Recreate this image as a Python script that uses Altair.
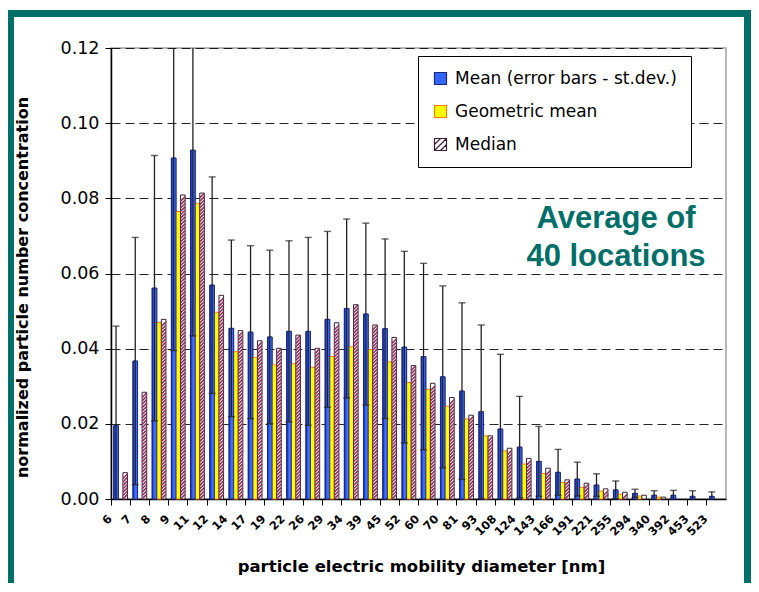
import altair as alt
import pandas as pd

# ---------------- data ----------------
categories = ["6", "7", "8", "9", "11", "12", "14", "17", "19", "22", "26", "29",
              "34", "39", "45", "52", "60", "70", "81", "93", "108", "124", "143",
              "166", "191", "221", "255", "294", "340", "392", "453", "523"]

mean_vals = [0.0195, 0.0367, 0.0561, 0.0907, 0.0928, 0.0569, 0.0454, 0.0444,
             0.0431, 0.0446, 0.0446, 0.0478, 0.0507, 0.0492, 0.0453, 0.0404,
             0.0379, 0.0325, 0.0287, 0.0232, 0.0186, 0.0138, 0.0100, 0.0071,
             0.0053, 0.0037, 0.0024, 0.0015, 0.0010, 0.0010, 0.0007, 0.0007]

stdev_vals = [0.0265, 0.0329, 0.0353, 0.0512, 0.0494, 0.0288, 0.0235, 0.0230,
              0.0231, 0.0241, 0.0250, 0.0234, 0.0238, 0.0242, 0.0239, 0.0255,
              0.0248, 0.0242, 0.0235, 0.0231, 0.0199, 0.0135, 0.0093, 0.0061,
              0.0045, 0.0030, 0.0024, 0.0011, 0.0012, 0.0013, 0.0015, 0.0012]

geo_vals = [None, None, 0.0470, 0.0765, 0.0787, 0.0497, 0.0392, 0.0377,
            0.0357, 0.0360, 0.0350, 0.0379, 0.0405, 0.0398, 0.0365, 0.0310,
            0.0292, 0.0247, 0.0213, 0.0168, 0.0128, 0.0093, 0.0068, 0.0044,
            0.0031, 0.0021, 0.0013, 0.0008, 0.0005, None, None, None]

median_vals = [0.0070, 0.0284, 0.0478, 0.0809, 0.0814, 0.0542, 0.0448, 0.0421,
               0.0401, 0.0436, 0.0401, 0.0469, 0.0517, 0.0463, 0.0430, 0.0355,
               0.0308, 0.0270, 0.0223, 0.0168, 0.0135, 0.0108, 0.0082, 0.0051,
               0.0042, 0.0027, 0.0018, 0.0010, 0.0005, None, None, None]

series_names = ["Mean (error bars - st.dev.)", "Geometric mean", "Median"]
y_ticks = [0.0, 0.02, 0.04, 0.06, 0.08, 0.10, 0.12]
annotation = "Average of\n40 locations"
X_TITLE = "particle electric mobility diameter [nm]"
Y_TITLE = "normalized particle number concentration"

# ---------------- styling ----------------
fill_colors = ["#3366ff", "#ffff00", "#ffffff"]
stroke_colors = ["#1a2680", "#ff8000", "#3d1f30"]
legend_shapes = ["square", "square",
                 "M-1,-1H1V1H-1Z M-1,0L0,-1 M-1,1L1,-1 M0,1L1,0"]
TEAL = "#006e69"
FONT = "DejaVu Sans"
W, H = 615, 451
YDOM = [0, 0.12]

# ---------------- tables built from the lists ----------------
rows = []
for i, c in enumerate(categories):
    for s, vals in zip(series_names, (mean_vals, geo_vals, median_vals)):
        if vals[i] is not None:
            rows.append({"diameter": c, "series": s, "value": vals[i]})
bars_df = pd.DataFrame(rows)

err_df = pd.DataFrame({"diameter": categories, "series": series_names[0],
                       "mean": mean_vals, "sd": stdev_vals})
err_df["lo"] = err_df["mean"] - err_df["sd"]
err_df["hi"] = err_df["mean"] + err_df["sd"]
cap_df = pd.concat([err_df.assign(end=err_df["lo"]),
                    err_df.assign(end=err_df["hi"])], ignore_index=True)

# hatch strokes for the median bars (decoration derived from the medians)
stripe_rows = []
step = 0.0009
for c, m in zip(categories, median_vals):
    if m is None:
        continue
    v = step * 0.7
    while v < m - 0.0006:
        stripe_rows.append({"diameter": c, "series": series_names[2], "v": v})
        v += step
stripe_df = pd.DataFrame(stripe_rows)

one = pd.DataFrame({"k": [0]})

# ---------------- encodings ----------------
x_scale = alt.Scale(domain=categories, paddingInner=0, paddingOuter=0)
xo_scale = alt.Scale(domain=series_names, paddingInner=0, paddingOuter=0.6)
y_scale = alt.Scale(domain=YDOM, nice=False, zero=True)

x_main = alt.X(
    "diameter:N", scale=x_scale, title=X_TITLE,
    axis=alt.Axis(bandPosition=0, labelAngle=-45, labelAlign="right",
                  labelBaseline="middle", labelOffset=-10, labelPadding=12,
                  labelFont=FONT, labelFontWeight="bold", labelFontSize=11.5,
                  labelColor="black", tickSize=6, tickColor="black",
                  domainColor="black", domainWidth=1.5, grid=False,
                  titleFont=FONT, titleFontSize=16.5, titleFontWeight="bold",
                  titleColor="black", titleX=310, titleY=67,
                  titleBaseline="middle", titleAlign="center"))
x_plain = alt.X("diameter:N", scale=x_scale, title=X_TITLE)
xo = alt.XOffset("series:N", scale=xo_scale)

y_main = alt.Y(
    "value:Q", scale=y_scale, title=Y_TITLE,
    axis=alt.Axis(values=y_ticks, format=".2f", grid=True, gridColor="black",
                  gridDash=[9, 5], gridWidth=1, gridOpacity=0.85,
                  labelFont=FONT, labelFontSize=17.5, labelColor="black",
                  labelPadding=6, tickSize=6, tickColor="black",
                  domainColor="black", domainWidth=1.5,
                  titleFont=FONT, titleFontSize=16, titleFontWeight="bold",
                  titleColor="black", titleX=-89, titleY=239, titleAngle=-90,
                  titleAlign="center", titleBaseline="middle"))


def y_plain(field):
    return alt.Y(field, scale=y_scale, title=Y_TITLE)


fill_enc = alt.Fill("series:N", scale=alt.Scale(domain=series_names, range=fill_colors),
                    legend=alt.Legend(title=None))
stroke_enc = alt.Stroke("series:N", scale=alt.Scale(domain=series_names, range=stroke_colors),
                        legend=alt.Legend(title=None))
shape_enc = alt.Shape("series:N", scale=alt.Scale(domain=series_names, range=legend_shapes),
                      legend=alt.Legend(title=None))

# ---------------- layers ----------------
bars = alt.Chart(bars_df).mark_bar(strokeWidth=1).encode(
    x=x_main, xOffset=xo, y=y_main, fill=fill_enc, stroke=stroke_enc)

blue_grad = alt.Gradient(
    gradient="linear", x1=0, x2=1, y1=0, y2=0,
    stops=[alt.GradientStop(color="#0f1f8a", offset=0),
           alt.GradientStop(color="#2c57e8", offset=0.3),
           alt.GradientStop(color="#4373ff", offset=0.6),
           alt.GradientStop(color="#3260f0", offset=1)])
mean_overlay = alt.Chart(bars_df).transform_filter(
    alt.datum.series == series_names[0]
).mark_bar(fill=blue_grad, stroke="#1a2680", strokeWidth=0.8).encode(
    x=x_plain, xOffset=xo, y=y_plain("value:Q"))

stripes = alt.Chart(stripe_df).mark_point(
    shape="M-1,1L1,-1", size=21, stroke="#8c3563", strokeWidth=1.6,
    filled=False, opacity=1).encode(
    x=x_plain, xOffset=xo, y=y_plain("v:Q"))

err_rules = alt.Chart(err_df).mark_rule(clip=True, color="#222222", strokeWidth=1.3).encode(
    x=x_plain, xOffset=xo, y=y_plain("lo:Q"), y2="hi:Q")

err_caps = alt.Chart(cap_df).mark_tick(clip=True, color="#222222", size=7,
                                       thickness=1.4, orient="horizontal").encode(
    x=x_plain, xOffset=xo, y=y_plain("end:Q"))

legend_pts = alt.Chart(bars_df).transform_filter(alt.datum.value < 0).mark_point(
    filled=True, opacity=1, size=144, strokeWidth=1.2).encode(
    x=x_plain, xOffset=xo, y=y_plain("value:Q"),
    shape=shape_enc, fill=fill_enc, stroke=stroke_enc)

note = alt.Chart(one).mark_text(
    text=annotation, lineBreak="\n", lineHeight=38, font="Liberation Sans",
    fontWeight="bold", fontSize=31, color=TEAL, align="center",
    baseline="alphabetic").encode(
    x=alt.value(505), y=alt.value(180))

frame_left = alt.Chart(one).mark_rule(color=TEAL, strokeWidth=6).encode(
    x=alt.value(-100), y=alt.value(-38), y2=alt.value(545))
frame_top = alt.Chart(one).mark_rule(color=TEAL, strokeWidth=7).encode(
    x=alt.value(-103), x2=alt.value(640), y=alt.value(-34.5))
frame_right = alt.Chart(one).mark_rule(color=TEAL, strokeWidth=7).encode(
    x=alt.value(636.5), y=alt.value(-38), y2=alt.value(545))

chart = alt.layer(
    bars, mean_overlay, stripes, err_rules, err_caps, legend_pts, note,
    frame_left, frame_top, frame_right
).properties(
    width=W, height=H, background="white",
    autosize=alt.AutoSizeParams(type="none"),
    padding={"left": 103, "top": 40, "right": 25, "bottom": 84},
).configure_view(
    stroke="#a0a0a0", strokeWidth=1.5
).configure_legend(
    orient="none", legendX=307, legendY=8, fillColor="white",
    strokeColor="black", padding=14, labelFont=FONT, labelFontSize=17,
    labelColor="black", labelOffset=6, symbolSize=144, symbolStrokeWidth=1.2,
    rowPadding=15, labelLimit=400
)

chart.save("out.html", embed_options={"renderer": "svg", "actions": False})
